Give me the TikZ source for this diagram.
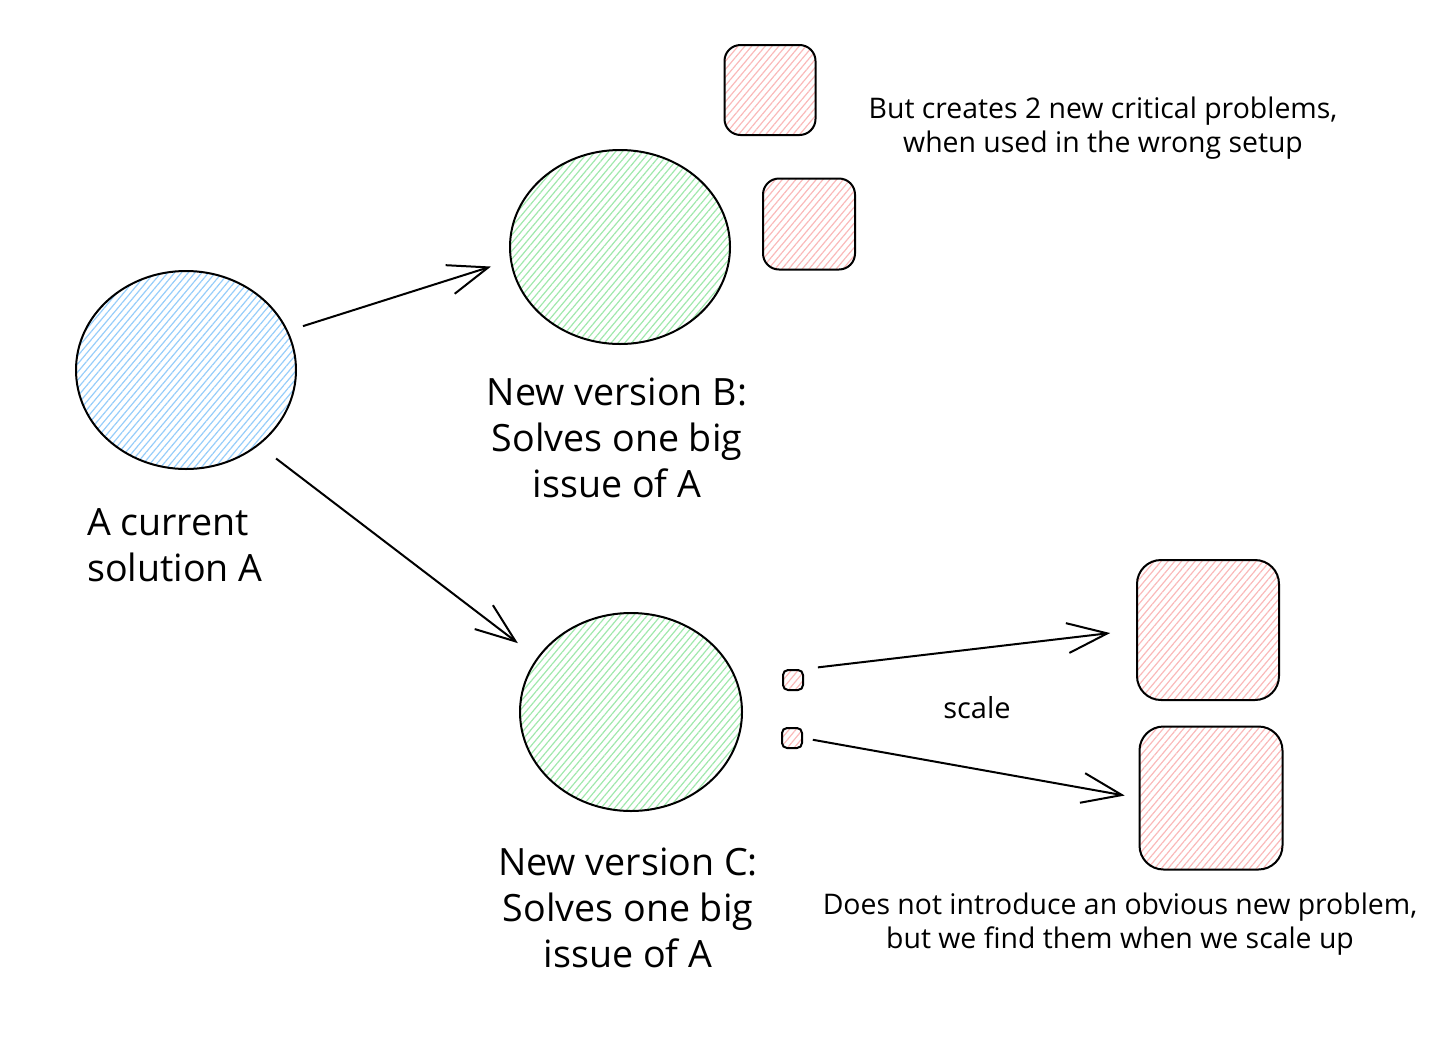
\documentclass[tikz,border=0pt]{standalone}
\usepackage{fontspec}
\setmainfont{Open Sans}
\usepackage{xcolor}
\usetikzlibrary{arrows.meta, positioning, shapes.geometric, patterns.meta}

\definecolor{hatchblue}{RGB}{150,205,250}
\definecolor{hatchgreen}{RGB}{160,232,172}
\definecolor{hatchred}{RGB}{250,185,185}

\begin{document}
\begin{tikzpicture}[
  x=0.5pt, y=-0.5pt,
  blob/.style={draw, ellipse, line width=1pt, minimum width=110pt, minimum height=99pt, inner sep=0pt},
  sq/.style={draw, rectangle, line width=1pt, inner sep=0pt},
  hatch/.style={pattern={Lines[angle=50, distance=2.6pt, line width=0.6pt]}, pattern color=#1},
  lbl/.style={align=center, font=\fontsize{18.8}{23}\selectfont},
  note/.style={align=center, font=\fontsize{14.2}{17}\selectfont},
  arr/.style={-{Straight Barb[length=20pt, width=15pt]}, line width=1pt}
]
\useasboundingbox (0,0) rectangle (1456,1039);

% current and new solutions
\node[blob, hatch=hatchblue] (A) at (186,370) {};
\node[blob, hatch=hatchgreen, minimum height=97pt] (B) at (620,247) {};
\node[blob, hatch=hatchgreen, minimum width=111pt] (C) at (631,712) {};

\node[lbl, align=left, anchor=west] (labA) at (80,545) {A current\\solution A};
\node[lbl] (labB) at (617,438) {New version B:\\Solves one big\\issue of A};
\node[lbl] (labC) at (628,908) {New version C:\\Solves one big\\issue of A};

% problems
\node[sq, hatch=hatchred, minimum width=45.5pt, minimum height=45pt, rounded corners=8pt] (probB1) at (770,90) {};
\node[sq, hatch=hatchred, minimum width=46pt, minimum height=45.5pt, rounded corners=8pt] (probB2) at (809,224) {};
\node[sq, hatch=hatchred, minimum size=10pt, rounded corners=2.5pt] (probC1) at (793,680) {};
\node[sq, hatch=hatchred, minimum size=10pt, rounded corners=2.5pt] (probC2) at (792,738) {};
\node[sq, hatch=hatchred, minimum width=71pt, minimum height=70pt, rounded corners=12pt] (bigC1) at (1208,630) {};
\node[sq, hatch=hatchred, minimum size=71.5pt, rounded corners=12pt] (bigC2) at (1211,798) {};

\node[note] (noteB) at (1103,128) {But creates 2 new critical problems,\\when used in the wrong setup};
\node[note] (noteC) at (1120,924) {Does not introduce an obvious new problem,\\but we find them when we scale up};
\node[note, font=\fontsize{14.5}{15}\selectfont] (scale) at (977,708) {scale};

\draw[arr, shorten <=8pt, shorten >=10pt] (A.21) -- (B.187);
\draw[arr, shorten <=11pt, shorten >=12pt] (A.-46) -- (C.150);
\draw[arr, shorten <=7pt, shorten >=13pt] (probC1.north east) -- (bigC1.west);
\draw[arr, shorten <=5pt, shorten >=7pt] (probC2.east) -- (bigC2.west);
\end{tikzpicture}
\end{document}
